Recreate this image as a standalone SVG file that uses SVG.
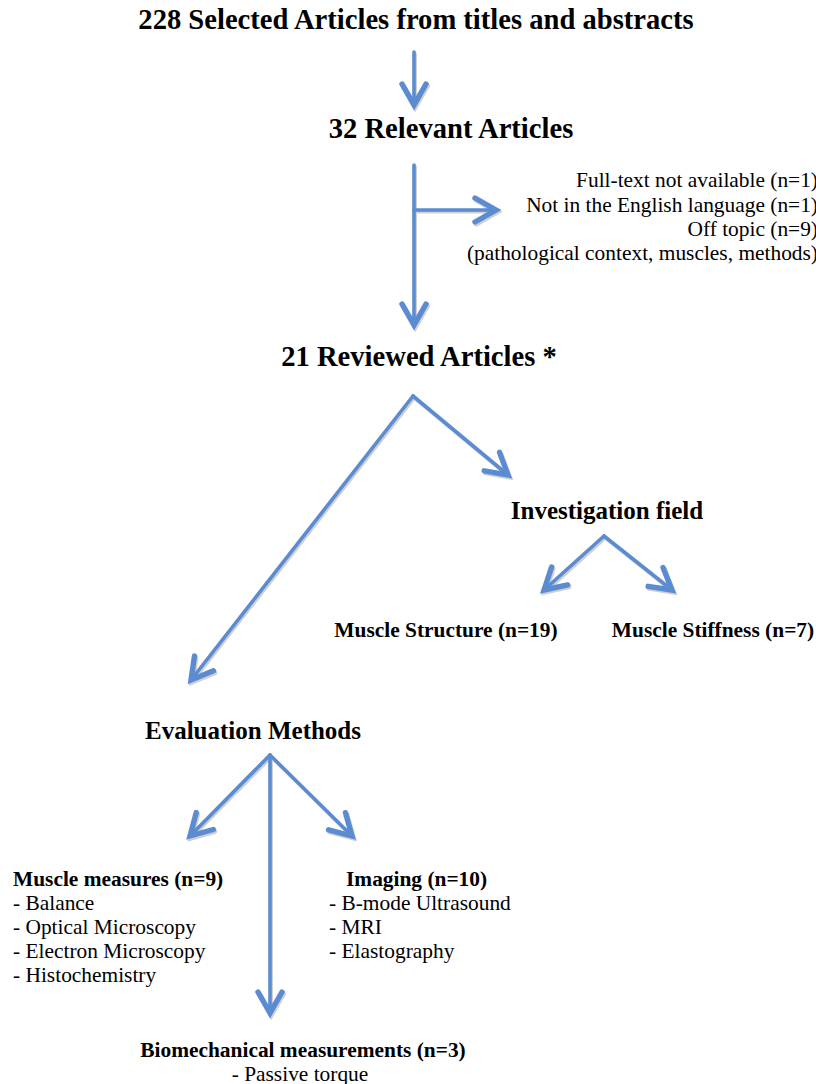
<svg xmlns="http://www.w3.org/2000/svg" width="816" height="1084" viewBox="0 0 816 1084">
<style>
  .h1 { font-family: "Liberation Serif", "Times New Roman", serif; font-weight: bold; font-size: 28.6px; fill: #000; }
  .h2 { font-family: "Liberation Serif", "Times New Roman", serif; font-weight: bold; font-size: 25px; fill: #000; }
  .h3 { font-family: "Liberation Serif", "Times New Roman", serif; font-weight: bold; font-size: 21.4px; fill: #000; }
  .t { font-family: "Liberation Serif", "Times New Roman", serif; font-size: 21.4px; fill: #000; }
  .c { fill: none; stroke: #5b8cd2; stroke-width: 3.6; stroke-linecap: round; stroke-linejoin: round; }
  .s { fill: none; stroke: #cfcfcf; stroke-width: 3.6; stroke-linecap: round; stroke-linejoin: round; }
</style>
<defs>
  <marker id="ah" markerUnits="userSpaceOnUse" orient="auto" refX="0" refY="0" markerWidth="30" markerHeight="30" viewBox="-16 -10 20 20" overflow="visible">
    <path d="M-14,-8 L0,0 L-14,8" fill="none" stroke="#5b8cd2" stroke-width="3.6" stroke-linecap="round" stroke-linejoin="miter"/>
  </marker>
  <marker id="ahs" markerUnits="userSpaceOnUse" orient="auto" refX="0" refY="0" markerWidth="30" markerHeight="30" viewBox="-16 -10 20 20" overflow="visible">
    <path d="M-14,-8 L0,0 L-14,8" fill="none" stroke="#cfcfcf" stroke-width="3.6" stroke-linecap="round" stroke-linejoin="miter"/>
  </marker>
</defs>

<g id="connectors-shadow" transform="translate(1.2,1.8)">
  <line class="s" x1="414" y1="52" x2="414" y2="105" marker-end="url(#ahs)"/>
  <line class="s" x1="414" y1="165" x2="414" y2="325" marker-end="url(#ahs)"/>
  <line class="s" x1="414" y1="210" x2="496" y2="210" marker-end="url(#ahs)"/>
  <line class="s" x1="413" y1="396" x2="508" y2="475" marker-end="url(#ahs)"/>
  <line class="s" x1="413" y1="396" x2="191" y2="680" marker-end="url(#ahs)"/>
  <line class="s" x1="604" y1="536" x2="544" y2="590" marker-end="url(#ahs)"/>
  <line class="s" x1="604" y1="536" x2="672" y2="590" marker-end="url(#ahs)"/>
  <line class="s" x1="270" y1="755" x2="190" y2="836" marker-end="url(#ahs)"/>
  <line class="s" x1="270" y1="755" x2="352" y2="836" marker-end="url(#ahs)"/>
  <line class="s" x1="270" y1="755" x2="270" y2="1013" marker-end="url(#ahs)"/>
</g>
<g id="connectors">
  <line class="c" x1="414" y1="52" x2="414" y2="105" marker-end="url(#ah)"/>
  <line class="c" x1="414" y1="165" x2="414" y2="325" marker-end="url(#ah)"/>
  <line class="c" x1="414" y1="210" x2="496" y2="210" marker-end="url(#ah)"/>
  <line class="c" x1="413" y1="396" x2="508" y2="475" marker-end="url(#ah)"/>
  <line class="c" x1="413" y1="396" x2="191" y2="680" marker-end="url(#ah)"/>
  <line class="c" x1="604" y1="536" x2="544" y2="590" marker-end="url(#ah)"/>
  <line class="c" x1="604" y1="536" x2="672" y2="590" marker-end="url(#ah)"/>
  <line class="c" x1="270" y1="755" x2="190" y2="836" marker-end="url(#ah)"/>
  <line class="c" x1="270" y1="755" x2="352" y2="836" marker-end="url(#ah)"/>
  <line class="c" x1="270" y1="755" x2="270" y2="1013" marker-end="url(#ah)"/>
</g>

<g id="selected">
  <text class="h1" x="416" y="29" text-anchor="middle">228 Selected Articles from titles and abstracts</text>
</g>
<g id="relevant">
  <text class="h1" x="451" y="138" text-anchor="middle">32 Relevant Articles</text>
</g>
<g id="excluded">
  <text class="t" x="818" y="187" text-anchor="end">Full-text not available (n=1)</text>
  <text class="t" x="818" y="212" text-anchor="end">Not in the English language (n=1)</text>
  <text class="t" x="818" y="236" text-anchor="end">Off topic (n=9)</text>
  <text class="t" x="818" y="260" text-anchor="end">(pathological context, muscles, methods)</text>
</g>
<g id="reviewed">
  <text class="h1" x="419" y="366" text-anchor="middle">21 Reviewed Articles *</text>
</g>
<g id="investigation">
  <text class="h2" x="607" y="519" text-anchor="middle">Investigation field</text>
</g>
<g id="structure">
  <text class="h3" x="446" y="637" text-anchor="middle">Muscle Structure (n=19)</text>
</g>
<g id="stiffness">
  <text class="h3" x="713" y="637" text-anchor="middle">Muscle Stiffness (n=7)</text>
</g>
<g id="evaluation">
  <text class="h2" x="253" y="739" text-anchor="middle">Evaluation Methods</text>
</g>
<g id="muscle-measures">
  <text class="h3" x="13" y="886">Muscle measures (n=9)</text>
  <text class="t" x="13" y="910">- Balance</text>
  <text class="t" x="13" y="934">- Optical Microscopy</text>
  <text class="t" x="13" y="958">- Electron Microscopy</text>
  <text class="t" x="13" y="982">- Histochemistry</text>
</g>
<g id="imaging">
  <text class="h3" x="346" y="886">Imaging (n=10)</text>
  <text class="t" x="329" y="910">- B-mode Ultrasound</text>
  <text class="t" x="329" y="934">- MRI</text>
  <text class="t" x="329" y="958">- Elastography</text>
</g>
<g id="biomechanical">
  <text class="h3" x="303" y="1057" text-anchor="middle">Biomechanical measurements (n=3)</text>
  <text class="t" x="300" y="1081" text-anchor="middle">- Passive torque</text>
</g>
</svg>
